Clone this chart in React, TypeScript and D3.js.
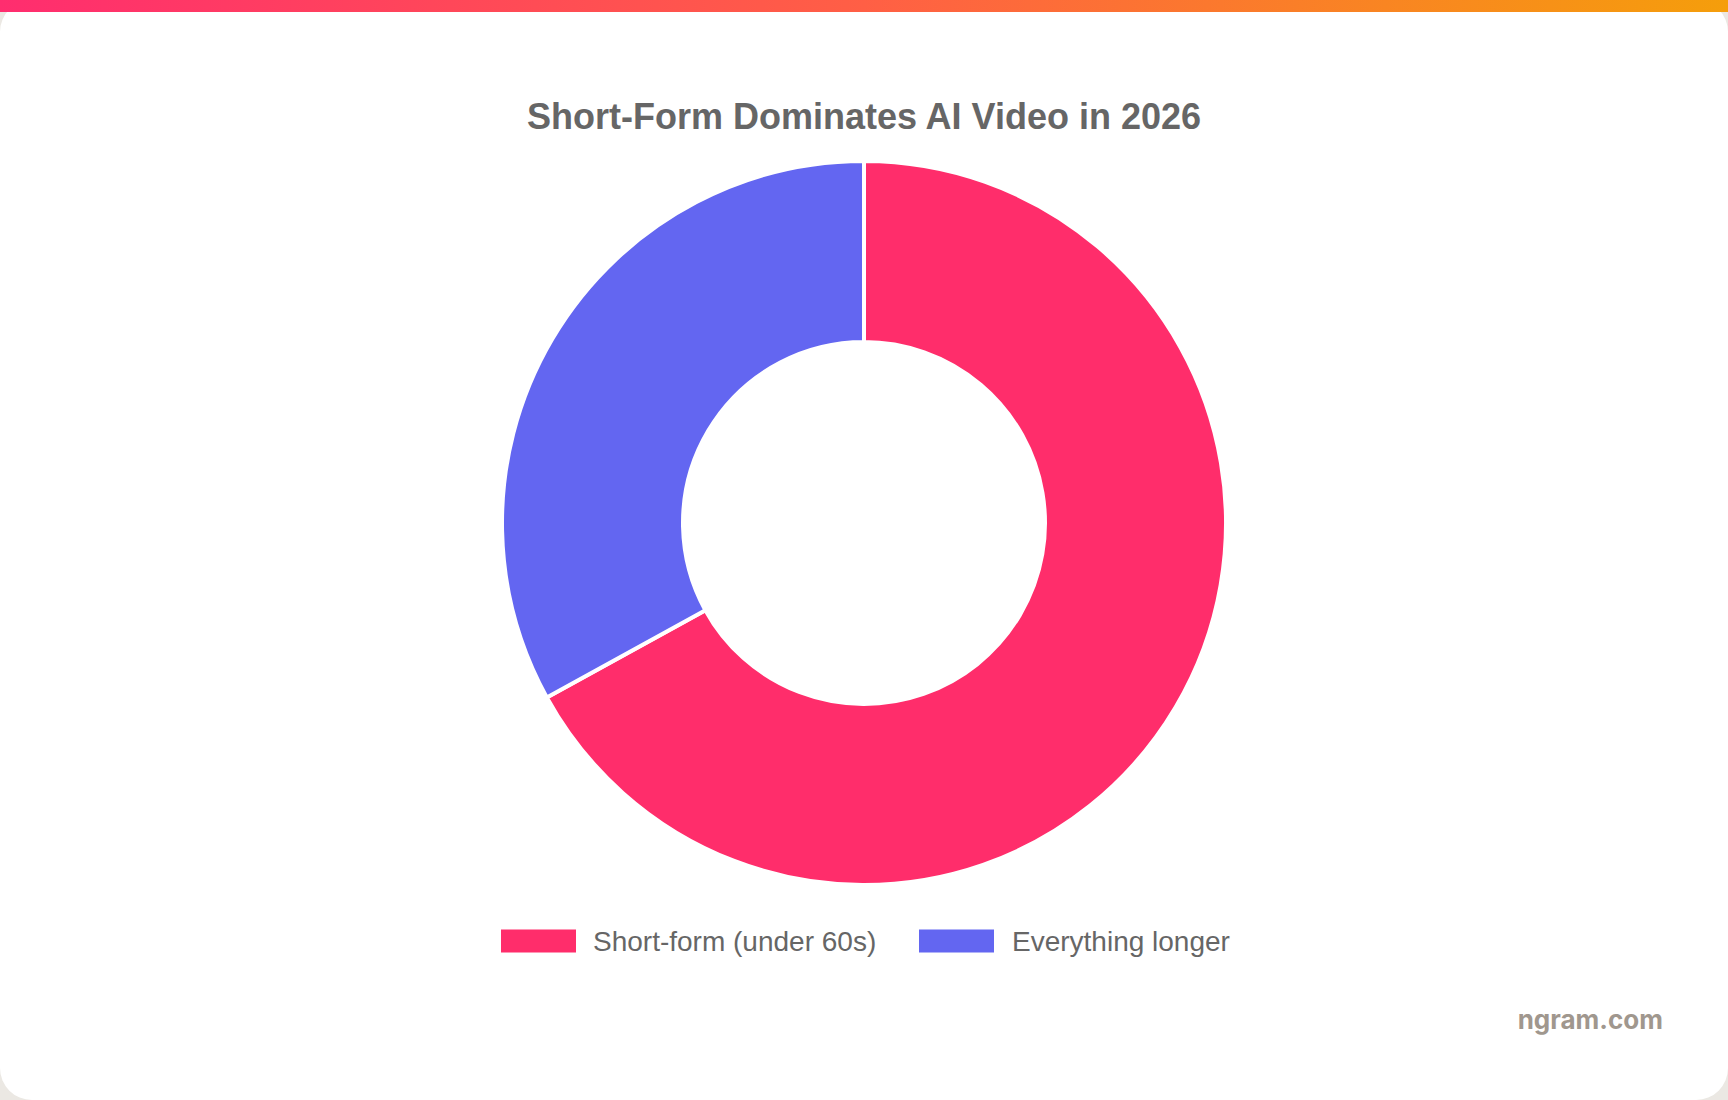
import * as d3 from "d3";

const W = 1728;
const H = 1100;

// chart data
const categories = ["Short-form (under 60s)", "Everything longer"];
const shares = [67, 33];
const colors = ["#ff2d6b", "#6366f1"];
const title = "Short-Form Dominates AI Video in 2026";
const watermark = "ngram.com";

const cx = W / 2;
const cy = 523;
const outerR = 362;
const innerR = 181;

export default function App() {
  const slices = d3
    .pie<number>()
    .sort(null)
    .value((d) => d)(shares);

  const arc = d3
    .arc<d3.PieArcDatum<number>>()
    .innerRadius(innerR)
    .outerRadius(outerR);

  // legend layout (box + label pairs)
  const boxW = 75;
  const boxH = 23;
  const legendY = 941;
  const items = [
    { boxX: 501, textX: 593 },
    { boxX: 919, textX: 1012 },
  ];

  return (
    <svg
      width={W}
      height={H}
      style={{ position: "fixed", left: 0, top: 0, display: "block" }}
      fontFamily="'Liberation Sans', Arial, Helvetica, sans-serif"
    >
      <defs>
        <linearGradient id="topbar" x1="0" x2="1" y1="0" y2="0">
          <stop offset="0%" stopColor="#ff2d6f" />
          <stop offset="50%" stopColor="#ff5f45" />
          <stop offset="100%" stopColor="#f59e0b" />
        </linearGradient>
      </defs>
      <rect width={W} height={H} fill="#ebe8e3" />
      <rect width={W} height={H} rx={32} ry={32} fill="#ffffff" />
      <rect width={W} height={12} fill="url(#topbar)" />

      <text
        x={cx}
        y={129}
        textAnchor="middle"
        fontSize={36}
        fontWeight="bold"
        fill="#666666"
      >
        {title}
      </text>

      <g transform={`translate(${cx},${cy})`}>
        {slices.map((s, i) => (
          <path
            key={categories[i]}
            d={arc(s) ?? ""}
            fill={colors[i]}
            stroke="#ffffff"
            strokeWidth={4}
            strokeLinejoin="round"
          />
        ))}
      </g>

      <g>
        {categories.map((c, i) => (
          <g key={c}>
            <rect
              x={items[i].boxX}
              y={legendY - boxH / 2}
              width={boxW}
              height={boxH}
              fill={colors[i]}
            />
            <text
              x={items[i].textX}
              y={legendY}
              dy="0.35em"
              fontSize={28}
              fill="#666666"
            >
              {c}
            </text>
          </g>
        ))}
      </g>

      <text
        x={1663}
        y={1029}
        textAnchor="end"
        fontSize={26}
        fontWeight={700}
        fontFamily="Inter, 'Noto Sans', sans-serif"
        fill="#a0978e"
      >
        {watermark}
      </text>
    </svg>
  );
}
